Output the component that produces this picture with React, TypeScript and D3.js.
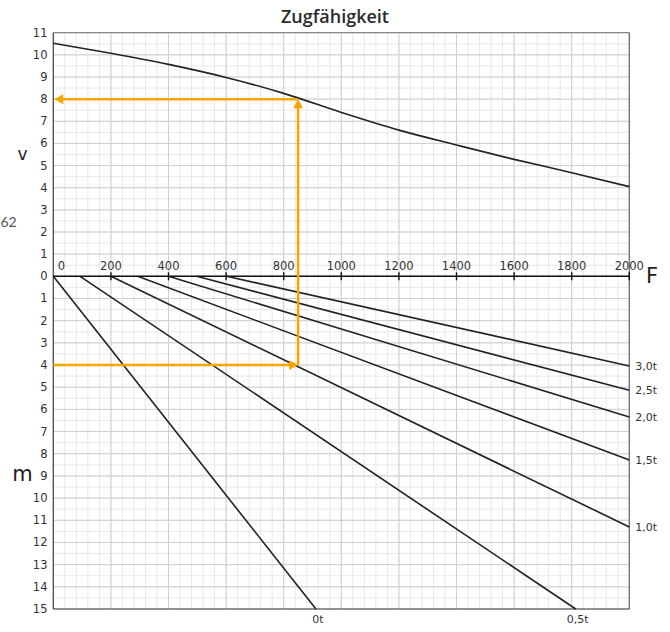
import React from "react";
import * as d3 from "d3";

const W = 670;
const H = 632;

const title = "Zugfähigkeit";
const xTicks = [0, 200, 400, 600, 800, 1000, 1200, 1400, 1600, 1800, 2000];
const vTicks = [0, 1, 2, 3, 4, 5, 6, 7, 8, 9, 10, 11];
const mTicks = [1, 2, 3, 4, 5, 6, 7, 8, 9, 10, 11, 12, 13, 14, 15];

// v(F) curve
const curveF = [0, 200, 400, 600, 800, 1000, 1200, 1400, 1600, 1800, 2000];
const curveV = [10.52, 10.07, 9.57, 8.98, 8.26, 7.4, 6.6, 5.93, 5.28, 4.68, 4.05];

// load lines (start at m = 0)
const loadLabels = ["0t", "0,5t", "1,0t", "1,5t", "2,0t", "2,5t", "3,0t"];
const loadStartF = [0, 93, 200, 293, 400, 498, 602];
const loadEndF = [912, 1814, 2000, 2000, 2000, 2000, 2000];
const loadEndM = [15, 15, 11.3, 8.28, 6.34, 5.14, 4.04];

// example reading
const exampleF = 850;
const exampleV = 8;
const exampleM = 4;

export default function App() {
  const x0 = 53.3, x1 = 629.3;
  const yTop = 32.7, yZero = 276.3, yBot = 609;
  const x = d3.scaleLinear().domain([0, 2000]).range([x0, x1]);
  const yV = d3.scaleLinear().domain([0, 11]).range([yZero, yTop]);
  const yM = d3.scaleLinear().domain([0, 15]).range([yZero, yBot]);

  const minorX = d3.range(0, 2001, 40);
  const majorX = d3.range(0, 2001, 200);
  const minorVs = d3.range(0, 11.01, 0.5);
  const minorMs = d3.range(0, 15.01, 0.5);

  const line = d3
    .line<number>()
    .x((_, i) => x(curveF[i]))
    .y((d) => yV(d))
    .curve(d3.curveMonotoneX);

  const orange = "#F5A700";
  const font = "'DejaVu Sans', Verdana, sans-serif";
  const ah = 8; // arrow head size

  const exX = x(exampleF);
  const exVy = yV(exampleV);
  const exMy = yM(exampleM);

  return (
    <svg
      width={W}
      height={H}
      style={{ position: "absolute", left: 0, top: 0, background: "#fff" }}
      fontFamily={font}
    >
      {/* minor grid */}
      <g stroke="#e8e8e8" strokeWidth={1}>
        {minorX.map((f) => (
          <line key={"mx" + f} x1={x(f)} x2={x(f)} y1={yTop} y2={yBot} />
        ))}
        {minorVs.map((v) => (
          <line key={"mv" + v} x1={x0} x2={x1} y1={yV(v)} y2={yV(v)} />
        ))}
        {minorMs.map((m) => (
          <line key={"mm" + m} x1={x0} x2={x1} y1={yM(m)} y2={yM(m)} />
        ))}
      </g>
      {/* major grid */}
      <g stroke="#cfcfcf" strokeWidth={1}>
        {majorX.map((f) => (
          <line key={"Mx" + f} x1={x(f)} x2={x(f)} y1={yTop} y2={yBot} />
        ))}
        {vTicks.map((v) => (
          <line key={"Mv" + v} x1={x0} x2={x1} y1={yV(v)} y2={yV(v)} />
        ))}
        {mTicks.map((m) => (
          <line key={"Mm" + m} x1={x0} x2={x1} y1={yM(m)} y2={yM(m)} />
        ))}
      </g>
      {/* frame */}
      <line x1={x0} x2={x1} y1={yTop} y2={yTop} stroke="#777" strokeWidth={1} />
      <line x1={x1} x2={x1} y1={yTop} y2={yBot} stroke="#666" strokeWidth={1.2} />
      <line x1={x0} x2={x1} y1={yBot} y2={yBot} stroke="#444" strokeWidth={1.2} />
      <line x1={x0} x2={x0} y1={yTop} y2={yBot} stroke="#444" strokeWidth={1.2} />

      {/* v curve */}
      <path d={line(curveV) || ""} fill="none" stroke="#222" strokeWidth={1.6} />

      {/* load lines */}
      {loadLabels.map((lab, i) => (
        <line
          key={lab}
          x1={x(loadStartF[i])}
          y1={yM(0)}
          x2={x(loadEndF[i])}
          y2={yM(loadEndM[i])}
          stroke="#222"
          strokeWidth={1.6}
        />
      ))}
      {loadLabels.map((lab, i) => {
        const atBottom = loadEndM[i] >= 15;
        return atBottom ? (
          <text
            key={"l" + lab}
            x={x(loadEndF[i]) + 2}
            y={yM(15) + 14}
            fontSize={11}
            fill="#333"
            textAnchor="middle"
          >
            {lab}
          </text>
        ) : (
          <text
            key={"l" + lab}
            x={x1 + 6}
            y={yM(loadEndM[i]) + 4}
            fontSize={11}
            fill="#333"
          >
            {lab}
          </text>
        );
      })}

      {/* x axis */}
      <line x1={x0} x2={x1} y1={yZero} y2={yZero} stroke="#111" strokeWidth={1.6} />
      {xTicks.map((f) => (
        <g key={"xt" + f}>
          {f > 0 && (
            <line x1={x(f)} x2={x(f)} y1={yZero - 4} y2={yZero + 4} stroke="#111" strokeWidth={1.4} />
          )}
          <text
            x={f === 0 ? x(f) + 8 : x(f)}
            y={yZero - 6}
            fontSize={11.5}
            fill="#333"
            textAnchor="middle"
          >
            {f}
          </text>
        </g>
      ))}
      <text x={646} y={yZero + 7} fontSize={21} fill="#222">
        F
      </text>

      {/* y labels */}
      {vTicks.map((v) => (
        <text key={"vt" + v} x={47.5} y={yV(v) + 4} fontSize={11.5} fill="#333" textAnchor="end">
          {v}
        </text>
      ))}
      {mTicks.map((m) => (
        <text key={"mt" + m} x={47.5} y={yM(m) + 4} fontSize={11.5} fill="#333" textAnchor="end">
          {m}
        </text>
      ))}
      <text x={22.5} y={160} fontSize={17} fill="#222" textAnchor="middle">
        v
      </text>
      <text x={22.5} y={481} fontSize={21} fill="#222" textAnchor="middle">
        m
      </text>
      <text x={0.5} y={227} fontSize={14} fill="#555" fontFamily="Lato, sans-serif">
        62
      </text>

      {/* title */}
      <text
        x={335}
        y={23}
        fontSize={18}
        fontWeight={600}
        fill="#2a2a2a"
        textAnchor="middle"
        fontFamily="'Open Sans', sans-serif"
      >
        {title}
      </text>

      {/* orange example */}
      <g stroke={orange} strokeWidth={2.5} fill="none">
        <line x1={exX} x2={exX} y1={exMy} y2={exVy + ah} />
        <line x1={exX} x2={x0 + ah} y1={exVy} y2={exVy} />
        <line x1={x0} x2={exX - ah} y1={exMy} y2={exMy} />
      </g>
      <g fill={orange}>
        <path d={`M${exX},${exVy} L${exX - 5},${exVy + ah + 1} L${exX + 5},${exVy + ah + 1} Z`} />
        <path d={`M${x0 + 1},${exVy} L${x0 + ah + 2},${exVy - 5} L${x0 + ah + 2},${exVy + 5} Z`} />
        <path d={`M${exX},${exMy} L${exX - ah - 1},${exMy - 5} L${exX - ah - 1},${exMy + 5} Z`} />
      </g>
    </svg>
  );
}
